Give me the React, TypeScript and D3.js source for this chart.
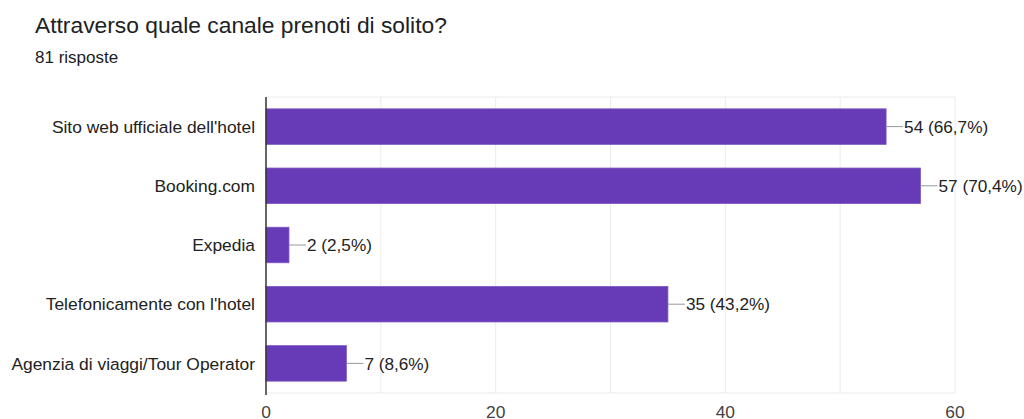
import React from "react";
import * as d3 from "d3";

const categories = [
  "Sito web ufficiale dell'hotel",
  "Booking.com",
  "Expedia",
  "Telefonicamente con l'hotel",
  "Agenzia di viaggi/Tour Operator",
];
const counts = [54, 57, 2, 35, 7];
const percents = ["66,7%", "70,4%", "2,5%", "43,2%", "8,6%"];
const xTicks = [0, 20, 40, 60];
const gridTicks = [10, 20, 30, 40, 50, 60];
const title = "Attraverso quale canale prenoti di solito?";
const subtitle = "81 risposte";

export default function App() {
  const W = 1024, H = 419;
  const left = 266, right = 955, top = 97, bottom = 393;
  const x = d3.scaleLinear().domain([0, 60]).range([left, right]);
  const y = d3.scaleBand<string>().domain(categories).range([top, bottom]).paddingInner(0.4).paddingOuter(0.2);
  const font = "'Liberation Sans', Arial, sans-serif";
  return (
    <svg width={W} height={H} style={{ position: "absolute", left: 0, top: 0, background: "#fff" }}>
      <text x={35} y={33} fontFamily={font} fontSize={22.8} fill="#202124">{title}</text>
      <text x={35} y={63} fontFamily={font} fontSize={17} fill="#202124">{subtitle}</text>
      {gridTicks.map((t) => (
        <line key={"g" + t} x1={x(t)} x2={x(t)} y1={top} y2={bottom} stroke="#ebebeb" strokeWidth={1} />
      ))}
      <line x1={left} x2={right} y1={top} y2={top} stroke="#ebebeb" />
      <line x1={left} x2={right} y1={bottom} y2={bottom} stroke="#ebebeb" />
      {categories.map((c, i) => {
        const yy = y(c)!;
        const bw = y.bandwidth();
        const xe = x(counts[i]);
        return (
          <g key={c}>
            <rect x={left} y={yy} width={xe - left} height={bw} fill="#673ab7" stroke="#7e57c2" strokeWidth={0.8} />
            <line x1={xe} x2={xe + 17} y1={yy + bw / 2} y2={yy + bw / 2} stroke="#999" strokeWidth={1} />
            <text x={xe + 18} y={yy + bw / 2} dy="0.36em" fontFamily={font} fontSize={17.2} fill="#222">
              {`${counts[i]} (${percents[i]})`}
            </text>
            <text x={left - 11} y={yy + bw / 2} dy="0.36em" textAnchor="end" fontFamily={font} fontSize={17.4} fill="#222">
              {c}
            </text>
          </g>
        );
      })}
      <line x1={left} x2={left} y1={top} y2={bottom + 2} stroke="#333" strokeWidth={1.5} />
      {xTicks.map((t) => (
        <text key={"t" + t} x={x(t)} y={418} textAnchor="middle" fontFamily={font} fontSize={17.4} fill="#444">{t}</text>
      ))}
    </svg>
  );
}
